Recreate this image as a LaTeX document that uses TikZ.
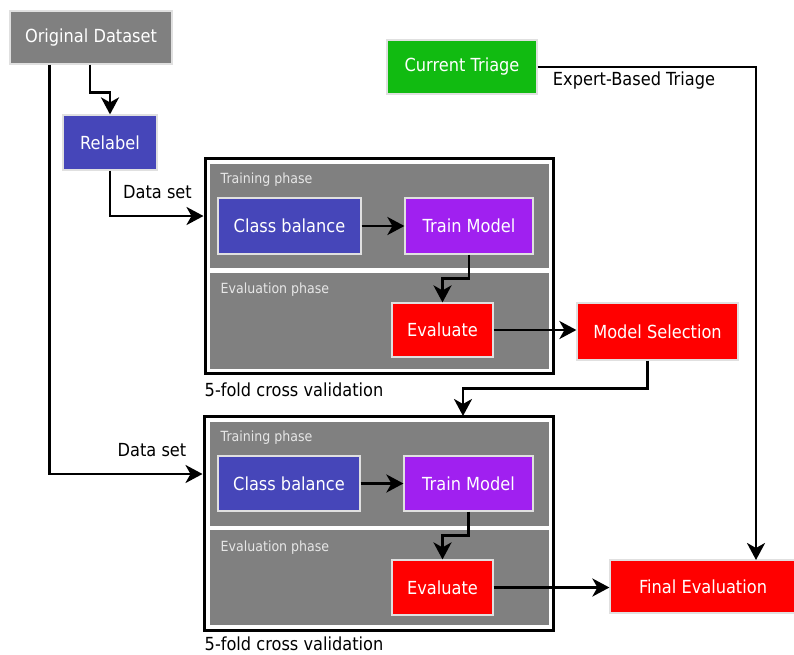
\documentclass[tikz,border=0pt]{standalone}
\usepackage{fontspec}
\setmainfont{DejaVu Sans}[FakeStretch=0.9]
\usetikzlibrary{arrows.meta,calc}
\definecolor{boxgray}{HTML}{808080}
\definecolor{boxblue}{HTML}{4646B9}
\definecolor{boxpurple}{HTML}{A020F0}
\definecolor{boxred}{HTML}{FF0000}
\definecolor{boxgreen}{HTML}{11BB11}
\definecolor{smalltxt}{HTML}{E6E6E6}
\tikzset{
  blk/.style={draw=white!88!black, line width=1.2pt, text=white, inner sep=0pt,
    font=\fontsize{18}{20}\selectfont},
  outerbox/.style={draw=black, line width=3pt, fill=white},
  panel/.style={draw=white, line width=1.5pt, fill=boxgray},
  small/.style={text=smalltxt, font=\fontsize{14}{16}\selectfont, anchor=west, inner sep=0pt},
  lbl/.style={text=black, font=\fontsize{18}{20}\selectfont, inner sep=0pt},
  arr/.style={draw=black, line width=2.8pt, -{Stealth[length=17pt,width=18pt,inset=5pt]}},
}
\begin{document}
\begin{tikzpicture}[x=1pt,y=-1pt]
\useasboundingbox (0,0) rectangle (794,654);
% outer boxes and panels
\node[outerbox, minimum width=348pt, minimum height=215pt] (out1) at (379,265.5) {};
\node[panel, minimum width=341pt, minimum height=106pt] (tp1) at (379.5,216) {};
\node[panel, minimum width=341pt, minimum height=98pt] (ep1) at (379.5,321) {};
\node[outerbox, minimum width=349pt, minimum height=214pt] (out2) at (378.5,523) {};
\node[panel, minimum width=341pt, minimum height=106pt] (tp2) at (379.5,474) {};
\node[panel, minimum width=341pt, minimum height=97pt] (ep2) at (379.5,577.5) {};
\node[small] (tl1) at (220.5,180) {Training phase};
\node[small] (el1) at (220.5,290) {Evaluation phase};
\node[small] (tl2) at (220.5,438) {Training phase};
\node[small] (el2) at (220.5,548) {Evaluation phase};
% blocks
\node[blk, fill=boxgray, minimum width=162pt, minimum height=53pt] (orig) at (91,37.5) {Original Dataset};
\node[blk, fill=boxblue, minimum width=94pt, minimum height=55pt] (relabel) at (110,142.5) {Relabel};
\node[blk, fill=boxgreen, minimum width=150pt, minimum height=54pt] (ct) at (462,67) {Current Triage};
\node[blk, fill=boxblue, minimum width=143pt, minimum height=56pt] (cb1) at (289.5,226) {Class balance};
\node[blk, fill=boxpurple, minimum width=128pt, minimum height=56pt] (tm1) at (469,226) {Train Model};
\node[blk, fill=boxred, minimum width=101pt, minimum height=54pt] (ev1) at (442.5,330) {Evaluate};
\node[blk, fill=boxred, minimum width=161pt, minimum height=57pt] (ms) at (657.5,331.5) {Model Selection};
\node[blk, fill=boxblue, minimum width=142pt, minimum height=55pt] (cb2) at (289,483.5) {Class balance};
\node[blk, fill=boxpurple, minimum width=129pt, minimum height=55pt] (tm2) at (468.5,483.5) {Train Model};
\node[blk, fill=boxred, minimum width=101pt, minimum height=55pt] (ev2) at (442.5,587.5) {Evaluate};
\node[blk, fill=boxred, minimum width=186pt, minimum height=53pt] (fe) at (703,586.5) {Final Evaluation};
% labels
\node[lbl] (cv1) at (294,390) {5-fold cross validation};
\node[lbl] (cv2) at (294,644) {5-fold cross validation};
\node[lbl] (ds1) at (157.5,192) {Data set};
\node[lbl] (ds2) at (152,450) {Data set};
\node[lbl] (ebt) at (634,81) {Expert-Based Triage};
% coordinates
\coordinate (origleft) at ($(orig.south west)+(40,0)$);
\coordinate (origmid) at ($(orig.south)+(-1,0)$);
\coordinate (msout) at ($(ms.south)+(-10,0)$);
\coordinate (in2) at (463,416);
\coordinate (feup) at (756,560);
% connectors
\draw[arr] (origmid) -- ++(0,28) -| (relabel.north);
\draw[arr] (relabel.south) |- (out1.west |- tp1.west);
\draw[arr] (origleft) |- (out2.west |- tp2.west);
\draw[arr] (cb1.east) -- (tm1.west);
\draw[arr] (tm1.south) -- ++(0,24) -| (ev1.north);
\draw[arr] (ev1.east) -- (ev1.east -| ms.west);
\draw[arr] (msout) -- ++(0,28) -| (in2);
\draw[arr] (cb2.east) -- (tm2.west);
\draw[arr] (tm2.south) -- ++(0,24) -| (ev2.north);
\draw[arr] (ev2.east) -- (ev2.east -| fe.west);
\draw[arr] (ct.east) -| (feup);
\end{tikzpicture}
\end{document}
